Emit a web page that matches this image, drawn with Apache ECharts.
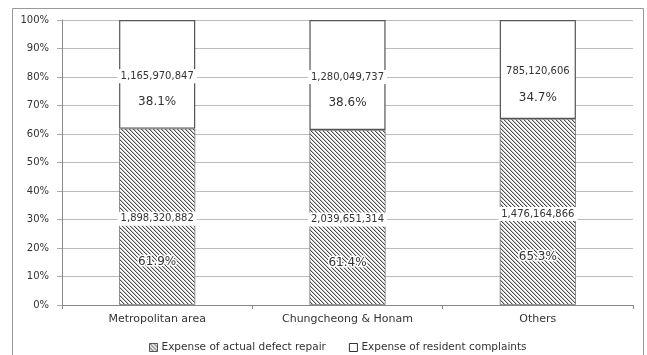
<!DOCTYPE html>
<html>
<head>
<meta charset="utf-8">
<script src="https://cdn.jsdelivr.net/npm/echarts@6/dist/echarts.min.js"></script>
<style>html,body{margin:0;padding:0;background:#fff}#c{width:647px;height:355px}</style>
</head>
<body>
<div id="c"></div>
<script>
// ---- data ----
var categories = ['Metropolitan area', 'Chungcheong & Honam', 'Others'];
var seriesNames = ['Expense of actual defect repair', 'Expense of resident complaints'];
var repairCost = [1898320882, 2039651314, 1476164866];
var complaintCost = [1165970847, 1280049737, 785120606];
var repairPct = [61.9, 61.4, 65.3];
var complaintPct = [38.1, 38.6, 34.7];
var yTicks = [0, 10, 20, 30, 40, 50, 60, 70, 80, 90, 100];

function fmt(n) { return n.toString().replace(/\B(?=(\d{3})+(?!\d))/g, ','); }

// hatch pattern (diagonal "\" lines)
var pc = document.createElement('canvas');
pc.width = 4; pc.height = 4;
var pctx = pc.getContext('2d');
pctx.fillStyle = '#ffffff'; pctx.fillRect(0, 0, 4, 4);
for (var y = 0; y < 4; y++) {
  for (var x = 0; x < 4; x++) {
    var d = ((x - y) % 4 + 4) % 4;
    if (d === 0) { pctx.fillStyle = '#4a4a4a'; pctx.fillRect(x, y, 1, 1); }
    else if (d === 1) { pctx.fillStyle = '#c4c4c4'; pctx.fillRect(x, y, 1, 1); }
  }
}
var hatch = { image: pc, repeat: 'repeat' };

var font = 'DejaVu Sans';
var chart = echarts.init(document.getElementById('c'), null, { renderer: 'canvas' });

function mkLabel(costs, pcts, pLine, off) {
  return {
    show: true,
    position: 'inside',
    offset: [0, off],
    formatter: function (p) {
      return '{v|' + fmt(costs[p.dataIndex]) + '}\n{p|' + pcts[p.dataIndex].toFixed(1) + '%}';
    },
    rich: {
      v: { fontFamily: font, fontSize: 10, color: '#333', backgroundColor: '#fff', padding: [2, 3], lineHeight: 14 },
      p: { fontFamily: font, fontSize: 12, color: '#333', lineHeight: pLine, textBorderColor: '#fff', textBorderWidth: 3 }
    }
  };
}

chart.setOption({
  animation: false,
  textStyle: { fontFamily: font },
  graphic: [{
    type: 'rect', shape: { x: 12.5, y: 8.5, width: 631, height: 360 },
    style: { fill: 'none', stroke: '#999', lineWidth: 1 }, silent: true, z: -1
  }],
  grid: { left: 62, right: 14, top: 20, bottom: 50, containLabel: false },
  legend: {
    left: 144, top: 337, itemWidth: 8, itemHeight: 8, itemGap: 23,
    icon: 'rect',
    textStyle: { fontFamily: font, fontSize: 10.5, color: '#333', padding: [0, 0, 0, -1] },
    data: [
      { name: seriesNames[0], itemStyle: { color: hatch, borderColor: '#555', borderWidth: 1 } },
      { name: seriesNames[1], itemStyle: { color: '#fff', borderColor: '#333', borderWidth: 1 } }
    ]
  },
  xAxis: {
    type: 'category', data: categories,
    axisLine: { lineStyle: { color: '#888' } },
    axisTick: { show: true, length: 4, lineStyle: { color: '#888' } },
    axisLabel: { fontFamily: font, fontSize: 11, color: '#333', margin: 9 }
  },
  yAxis: {
    type: 'value', min: 0, max: 100, interval: 10,
    axisLine: { show: true, lineStyle: { color: '#888' } },
    axisTick: { show: true, length: 5, lineStyle: { color: '#aaa' } },
    splitLine: { lineStyle: { color: '#bcbcbc' } },
    axisLabel: {
      fontFamily: font, fontSize: 10, color: '#333', margin: 13,
      formatter: function (v) { return yTicks.indexOf(v) >= 0 ? v + '%' : ''; }
    }
  },
  series: [
    {
      name: seriesNames[0], type: 'bar', stack: 's', barWidth: '40%',
      data: repairPct,
      itemStyle: { color: hatch, borderColor: '#777', borderWidth: 0.8 },
      label: mkLabel(repairCost, repairPct, 72, 38)
    },
    {
      name: seriesNames[1], type: 'bar', stack: 's', barWidth: '40%',
      data: complaintPct,
      itemStyle: { color: '#fff', borderColor: '#555', borderWidth: 1.2 },
      label: mkLabel(complaintCost, complaintPct, 38, 21)
    }
  ]
});
</script>
</body>
</html>
